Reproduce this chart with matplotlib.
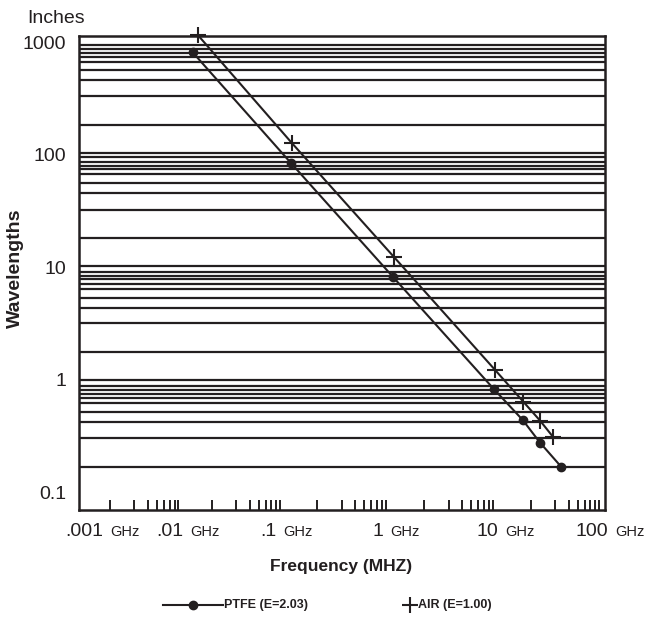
import numpy as np
import matplotlib
matplotlib.use('Agg')
import matplotlib.pyplot as plt
from matplotlib.lines import Line2D
from matplotlib.ticker import NullLocator

# values (frequency in GHz, wavelength in inches)
air_ghz = [0.0118, 0.099, 1.01, 10.0, 19.0, 27.8, 37.5]
air_in = [1166, 128.6, 12.4, 1.23, 0.641, 0.435, 0.31]
ptfe_ghz = [0.0105, 0.097, 0.99, 9.78, 18.75, 27.8, 44.7]
ptfe_in = [818, 85.4, 8.23, 0.827, 0.441, 0.277, 0.17]

# horizontal rules as drawn on the chart
grid_in = [955.9, 880.9, 806.6, 738.7, 670.8, 573.1, 461.3, 332.5, 185.9,
           104.8, 95.4, 87.2, 80.3, 74.6, 67.4, 56.0, 45.7, 32.4, 18.2,
           10.3, 9.18, 8.46, 7.90, 7.13, 6.44, 5.39, 4.34, 3.19, 1.785,
           1.0, 0.890, 0.815, 0.751, 0.688, 0.621, 0.523, 0.421, 0.307,
           0.1696]

# tick marks along the frequency axis (decade start x step pattern)
tick_start = [0.00161, 0.0162, 0.1775, 2.01, 22.6]
tick_step = [1, 1.743, 2.368, 2.904, 3.404, 3.857, 4.32, 4.73]

# frequency labels and where they sit
x_nums = ['.001', '.01', '.1', '1', '10', '100']
x_num_at = [0.00138, 0.0085, 0.0707, 0.793, 10.8, 131]

y_vals = [0.1, 1, 10, 100, 1000]
y_labels = ['0.1', '1', '10', '100', '1000']

ink = '#231f20'
plt.rcParams['font.family'] = ['Liberation Sans', 'DejaVu Sans']

fig = plt.figure(figsize=(6.45, 6.22), dpi=100)
ax = fig.add_axes([79 / 645, 1 - 510 / 622, 526 / 645, 473.7 / 622])
ax.set_xscale('log')
ax.set_yscale('log')
ax.set_xlim(0.000797, 121.2)
ax.set_ylim(0.0699, 1135)

for g in grid_in:
    ax.axhline(g, color=ink, lw=1.6, zorder=1)

ax.plot(air_ghz, air_in, color=ink, lw=1.5, marker='+', ms=12, mew=1.5,
        clip_on=False, zorder=3)
ax.plot(ptfe_ghz, ptfe_in, color=ink, lw=1.5, marker='o', ms=6,
        clip_on=False, zorder=3)

for s in ax.spines.values():
    s.set_linewidth(1.8)
    s.set_color(ink)

ticks = np.outer(tick_start, tick_step).ravel()
ax.set_xticks([])
ax.set_xticks(ticks, minor=True)
ax.xaxis.set_tick_params(which='minor', direction='in', length=7.2,
                         width=1.4, color=ink, labelbottom=False)

ax.set_yticks(y_vals, labels=y_labels)
ax.yaxis.set_minor_locator(NullLocator())
ax.yaxis.set_tick_params(length=0, pad=9.4, labelsize=14, labelcolor=ink)

for num, xv in zip(x_nums, x_num_at):
    ax.annotate(num, xy=(xv, 0), xycoords=('data', 'axes fraction'),
                xytext=(0, -18.5), textcoords='offset points',
                ha='right', va='baseline', fontsize=14, color=ink)
    ax.annotate('GHz', xy=(xv, 0), xycoords=('data', 'axes fraction'),
                xytext=(5, -18.5), textcoords='offset points',
                ha='left', va='baseline', fontsize=10.5, color=ink)

fig.text(27 / 645, 1 - 23 / 622, 'Inches', fontsize=14, color=ink,
         ha='left', va='baseline')
fig.text(15 / 645, 1 - 268 / 622, 'Wavelengths', fontsize=14,
         fontweight='bold', rotation=90, ha='center', va='center', color=ink)
fig.text(341 / 645, 1 - 567 / 622, 'Frequency (MHZ)', fontsize=12.5,
         fontweight='bold', ha='center', va='center', color=ink)

# legend, drawn by hand
ly = 1 - 605 / 622
fig.add_artist(Line2D([163 / 645, 223 / 645], [ly, ly], color=ink, lw=1.5))
fig.add_artist(Line2D([193 / 645], [ly], color=ink, marker='o', ms=6))
fig.text(224 / 645, ly, 'PTFE (E=2.03)', fontsize=9, fontweight='bold',
         ha='left', va='center', color=ink)
fig.add_artist(Line2D([410 / 645], [ly], color=ink, marker='+', ms=12,
                      mew=1.5))
fig.text(418 / 645, ly, 'AIR (E=1.00)', fontsize=9, fontweight='bold',
         ha='left', va='center', color=ink)

fig.savefig('out.png', dpi=100)
